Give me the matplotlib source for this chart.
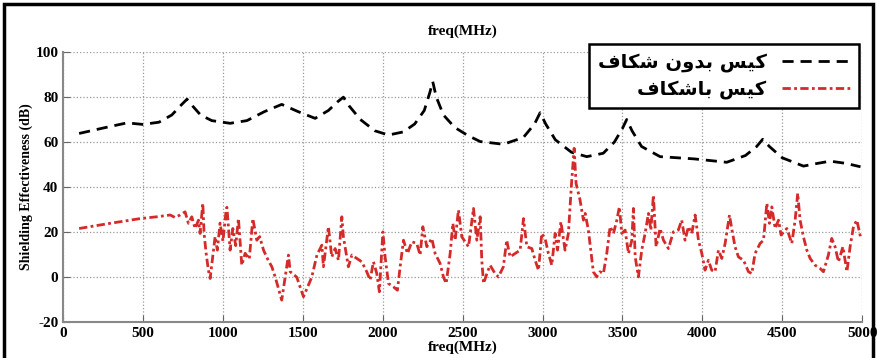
import matplotlib
matplotlib.use("Agg")
import matplotlib.pyplot as plt
from matplotlib.patches import Rectangle

# case without slot (black dashed)
freq_closed = [100, 250, 400, 500, 600, 680, 740, 775, 810, 860, 930, 1045, 1150, 1260,
               1368, 1470, 1577, 1660, 1720, 1754, 1790, 1860, 1950, 2036, 2130, 2200,
               2260, 2295, 2313, 2335, 2380, 2450, 2530, 2610, 2755, 2880, 2950, 2985,
               3020, 3080, 3180, 3277, 3380, 3450, 3500, 3527, 3560, 3620, 3736, 3950,
               4153, 4270, 4340, 4378, 4420, 4500, 4633, 4720, 4800, 4900, 4990]
se_closed = [63.8, 66.2, 68.5, 67.8, 68.8, 72.0, 76.5, 79.0, 76.0, 72.0, 69.5, 68.3, 69.5, 73.5,
             76.7, 73.5, 70.5, 74.0, 78.0, 79.9, 76.0, 70.0, 65.0, 63.1, 64.5, 68.0,
             74.0, 82.0, 86.8, 80.0, 72.0, 66.5, 63.0, 60.2, 59.0, 62.0, 68.0, 73.0,
             68.0, 61.0, 55.5, 53.5, 55.0, 60.0, 66.0, 70.0, 65.0, 58.0, 53.5, 52.5,
             51.0, 54.0, 58.0, 61.2, 58.0, 53.0, 49.3, 50.5, 51.5, 50.5, 49.0]

# case with slot (red dash-dot)
freq_slot = [100, 294, 482, 586, 670, 700, 732, 763, 784, 805, 826, 847, 857, 874, 882, 895,
             909, 920, 951, 965, 982, 1000, 1020, 1025, 1045, 1062, 1080, 1097, 1118, 1139,
             1165, 1187, 1212, 1230, 1254, 1280, 1306, 1327, 1368, 1410, 1421, 1462, 1504,
             1556, 1588, 1619, 1629, 1660, 1681, 1702, 1723, 1744, 1754, 1785, 1807, 1838,
             1869, 1900, 1921, 1942, 1963, 1979, 2001, 2015, 2036, 2067, 2092, 2109, 2130,
             2155, 2182, 2213, 2234, 2251, 2276, 2307, 2328, 2359, 2380, 2397, 2422, 2439,
             2453, 2474, 2495, 2516, 2537, 2568, 2589, 2610, 2620, 2631, 2652, 2672, 2703,
             2724, 2755, 2776, 2797, 2828, 2860, 2881, 2902, 2933, 2954, 2975, 2995,
             3016, 3037, 3058, 3079, 3094, 3115, 3141, 3162, 3183, 3198, 3210, 3235,
             3256, 3267, 3287, 3302, 3318, 3339, 3360, 3381, 3402, 3423, 3444, 3465,
             3481, 3496, 3517, 3538, 3559, 3569, 3580, 3600, 3621, 3642, 3663, 3678,
             3694, 3711, 3736, 3757, 3788, 3819, 3850, 3871, 3892, 3913, 3934, 3955,
             3976, 3997, 4017, 4038, 4059, 4080, 4101, 4122, 4143, 4170, 4184, 4205,
             4226, 4258, 4289, 4310, 4330, 4362, 4383, 4404, 4420, 4435, 4456, 4477,
             4493, 4529, 4560, 4581, 4597, 4612, 4633, 4654, 4675, 4706, 4737, 4758,
             4789, 4810, 4831, 4852, 4880, 4905, 4925, 4946, 4967, 4990]
se_slot = [21.6, 23.9, 26.0, 26.8, 27.6, 26.5, 27.6, 29.0, 23.9, 26.8, 21.6, 25.3, 19.4, 32.8, 19.4, 10.5,
           3.1, -0.6, 18.0, 12.0, 24.0, 16.0, 29.8, 31.0, 12.0, 21.6, 14.0, 26.0, 5.3, 10.6,
           8.0, 26.0, 16.4, 18.0, 12.0, 8.0, 4.6, 0.1, -10.2, 9.8, 2.4, 0.0, -8.7,
           0.0, 9.8, 14.2, 4.6, 22.4, 9.0, 12.7, 7.5, 26.8, 17.9, 4.6, 9.8, 8.3,
           6.8, 2.4, -1.3, 6.8, 1.6, -6.5, 20.1, 9.0, -2.8, -4.3, -5.8, 4.6, 16.4,
           10.5, 15.7, 15.0, 9.8, 22.4, 13.5, 17.2, 10.5, 6.1, 0.1, -2.8, 10.5, 23.9,
           16.4, 29.8, 17.9, 15.7, 13.5, 30.5, 16.4, 26.8, 7.5, -2.8, 1.6, 5.3, 1.6,
           0.1, 4.6, 16.4, 9.0, 10.5, 12.0, 26.0, 13.5, 12.7, 7.5, 3.1, 19.4,
           17.2, 10.5, 5.3, 19.4, 12.0, 24.6, 12.0, 19.4, 43.1, 57.2, 41.6, 34.2,
           25.3, 28.3, 20.9, 12.0, 2.4, 0.1, 2.4, 1.6, 10.5, 22.4, 19.4, 25.3,
           31.2, 19.4, 20.9, 10.5, 16.4, 30.5, 9.0, 0.1, 12.0, 19.4, 28.3, 20.9,
           36.4, 13.5, 21.6, 16.4, 12.7, 20.1, 20.9, 25.3, 16.4, 22.4, 19.4, 27.6,
           16.4, 10.5, 3.1, 7.5, 3.1, 2.4, 12.0, 8.3, 15.0, 27.6, 21.6, 13.5,
           9.0, 7.5, 2.4, 1.6, 10.5, 15.0, 16.4, 32.8, 23.9, 31.2, 21.6, 25.3,
           18.7, 21.6, 15.0, 25.3, 37.2, 25.3, 17.9, 12.0, 8.3, 5.3, 3.9, 2.4,
           9.8, 17.2, 13.5, 6.8, 13.5, 2.4, 13.5, 22.4, 25.3, 17.9]

xticks = list(range(0, 5001, 500))
yticks = list(range(-20, 101, 20))

# Persian labels (pre-shaped, visual order)
label_closed = "\uFED1\uFE8E\uFB91\uFEB7 \uFEE5\uFEED\uFEAA\uFE91 \uFEB2\uFBFF\uFB90"
label_slot = "\uFED1\uFE8E\uFB91\uFEB7\uFE8E\uFE91 \uFEB2\uFBFF\uFB90"

serif = ["Liberation Serif", "DejaVu Serif"]
plt.rcParams["axes.unicode_minus"] = False

fig = plt.figure(figsize=(8.77, 3.58), dpi=100)
ax = fig.add_axes([0.072, 0.10, 0.911, 0.755])

ax.plot(freq_closed, se_closed, color="black", linestyle=(0, (4, 2.5)), linewidth=2,
        label=label_closed)
ax.plot(freq_slot, se_slot, color="#d42a2a", linestyle=(0, (3, 1.2, 1, 1.2)), linewidth=2,
        label=label_slot)

ax.set_xlim(0, 5000)
ax.set_ylim(-20, 100)
ax.set_xticks(xticks)
ax.set_yticks(yticks)
ax.grid(True, linestyle=":", color="#999999", linewidth=0.9)
for s in ["top", "right"]:
    ax.spines[s].set_visible(False)
for s in ["left", "bottom"]:
    ax.spines[s].set_color("#888888")
    ax.spines[s].set_linewidth(1.5)
ax.tick_params(direction="in", length=5, color="#666666")
for lab in ax.get_xticklabels() + ax.get_yticklabels():
    lab.set_family(serif)
    lab.set_fontweight("bold")
    lab.set_fontsize(11)

ax.set_ylabel("Shielding Effectiveness (dB)", family=serif, fontweight="bold", fontsize=10,
              labelpad=2)
ax.set_xlabel("freq(MHz)", family=serif, fontweight="bold", fontsize=11, labelpad=0)
ax.set_title("freq(MHz)", family=serif, fontweight="bold", fontsize=11, pad=12)

leg = ax.legend(loc="upper right", bbox_to_anchor=(0.996, 1.03), markerfirst=False,
                prop={"family": ["DejaVu Sans"], "weight": "bold", "size": 14},
                fancybox=False, framealpha=1, handlelength=3.5, borderpad=0.45,
                labelspacing=0.4, borderaxespad=0)
leg.get_frame().set_edgecolor("black")
leg.get_frame().set_linewidth(1.8)

fig.patches.append(Rectangle((0.004, -0.02), 0.991, 1.01, transform=fig.transFigure,
                             fill=False, edgecolor="black", linewidth=2.5))

fig.savefig("out.png", dpi=100)
